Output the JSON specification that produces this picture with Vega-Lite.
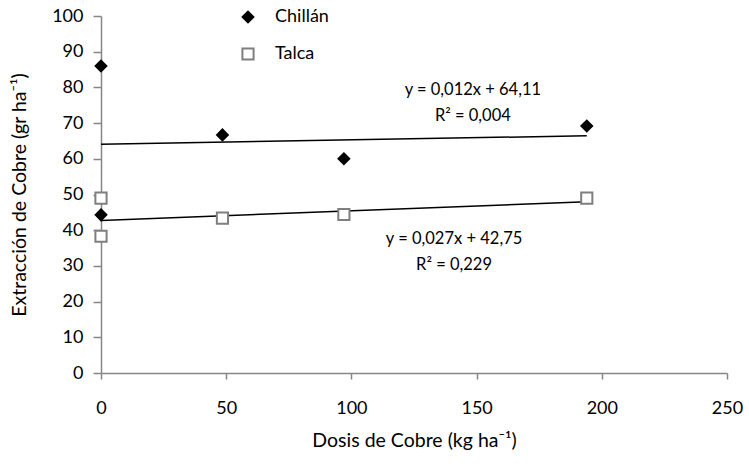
{
  "$schema": "https://vega.github.io/schema/vega-lite/v6.json",
  "width": 626,
  "height": 357,
  "autosize": {"type": "none"},
  "padding": {"left": 101, "top": 16, "right": 22, "bottom": 93},
  "background": "white",
  "config": {
    "view": {"stroke": null},
    "font": "Lato",
    "axis": {
      "domainColor": "#868686",
      "tickColor": "#868686",
      "domainWidth": 1.5,
      "tickWidth": 1.5,
      "labelColor": "#000000",
      "labelFontSize": 18,
      "titleFontSize": 19.5,
      "titleFontWeight": "normal",
      "titleColor": "#000000",
      "labelFont": "Lato",
      "titleFont": "Lato",
      "labelOverlap": false,
      "labelFlush": false,
      "grid": false
    },
    "legend": {
      "labelFontSize": 18,
      "labelFont": "Lato",
      "labelColor": "#000000"
    }
  },
  "datasets": {
    "pts": [
      {"x": 0, "y": 86, "serie": "Chillán"},
      {"x": 0, "y": 44.3, "serie": "Chillán"},
      {"x": 48.5, "y": 66.7, "serie": "Chillán"},
      {"x": 97, "y": 60, "serie": "Chillán"},
      {"x": 194, "y": 69.2, "serie": "Chillán"},
      {"x": 0, "y": 49, "serie": "Talca"},
      {"x": 0, "y": 38.3, "serie": "Talca"},
      {"x": 48.5, "y": 43.4, "serie": "Talca"},
      {"x": 97, "y": 44.4, "serie": "Talca"},
      {"x": 194, "y": 49, "serie": "Talca"}
    ],
    "lines": [
      {"x": 0, "y": 64.11, "serie": "Chillán"},
      {"x": 194, "y": 66.44, "serie": "Chillán"},
      {"x": 0, "y": 42.75, "serie": "Talca"},
      {"x": 194, "y": 47.99, "serie": "Talca"}
    ],
    "notes": [
      {"x": 148.5, "y": 79.3, "t": "y = 0,012x + 64,11"},
      {"x": 148.5, "y": 72.0, "t": "R² = 0,004"},
      {"x": 141, "y": 37.5, "t": "y = 0,027x + 42,75"},
      {"x": 141, "y": 30.3, "t": "R² = 0,229"}
    ]
  },
  "encoding": {
    "x": {"field": "x", "type": "quantitative", "scale": {"domain": [0, 250], "nice": false},
      "axis": {"values": [0, 50, 100, 150, 200, 250], "tickSize": 6, "labelPadding": 20,
        "title": "Dosis de Cobre (kg ha⁻¹)", "titlePadding": 14}},
    "y": {"field": "y", "type": "quantitative", "scale": {"domain": [0, 100], "nice": false},
      "axis": {"values": [0, 10, 20, 30, 40, 50, 60, 70, 80, 90, 100], "tickCount": 11, "tickSize": 8, "labelPadding": 10,
        "title": "Extracción de Cobre (gr ha⁻¹)", "titlePadding": 22}}
  },
  "layer": [
    {
      "data": {"name": "lines"},
      "mark": {"type": "line", "color": "#000000", "strokeWidth": 1.5},
      "encoding": {
        "detail": {"field": "serie"}
      }
    },
    {
      "data": {"name": "pts"},
      "mark": {"type": "point", "filled": false, "opacity": 1, "strokeWidth": 2},
      "encoding": {
        "shape": {"field": "serie", "type": "nominal",
          "scale": {"domain": ["Chillán", "Talca"], "range": ["diamond", "square"]},
          "legend": {"title": null, "orient": "none", "legendX": 138, "legendY": -8,
            "rowPadding": 17, "symbolSize": 125, "labelOffset": 18, "symbolStrokeWidth": 2}},
        "fill": {"field": "serie", "type": "nominal",
          "scale": {"domain": ["Chillán", "Talca"], "range": ["#000000", "#ffffff"]}},
        "stroke": {"field": "serie", "type": "nominal",
          "scale": {"domain": ["Chillán", "Talca"], "range": ["#000000", "#7f7f7f"]}},
        "size": {"field": "serie", "type": "nominal",
          "scale": {"domain": ["Chillán", "Talca"], "range": [115, 125]}}
      }
    },
    {
      "data": {"name": "notes"},
      "mark": {"type": "text", "fontSize": 16.5, "font": "Lato", "color": "#000000", "align": "center", "baseline": "middle"},
      "encoding": {
        "text": {"field": "t"}
      }
    }
  ]
}
